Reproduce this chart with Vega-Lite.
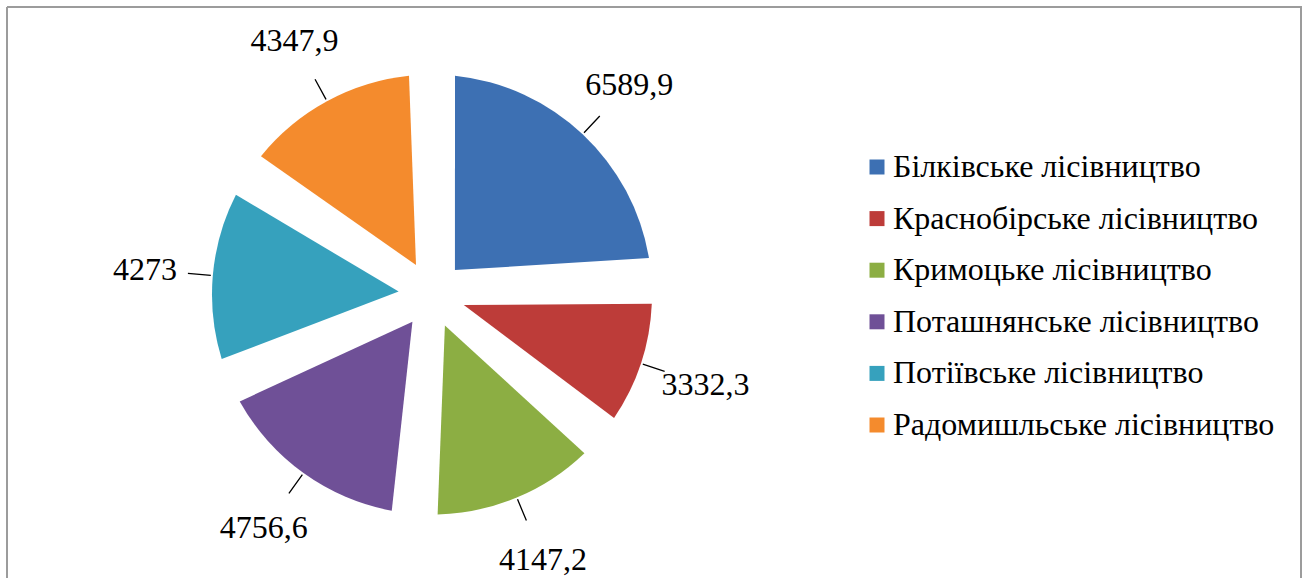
{
  "$schema": "https://vega.github.io/schema/vega-lite/v6.json",
  "width": 1294,
  "height": 571,
  "autosize": {"type": "none"},
  "padding": {"left": 7, "top": 7, "right": 5, "bottom": 0},
  "background": "white",
  "config": {
    "view": {"stroke": null},
    "font": "Liberation Serif",
    "locale": {"number": {"decimal": ",", "thousands": " ", "grouping": [3], "currency": ["", ""]}}
  },
  "data": {
    "values": [
      {"name": "Білківське лісівництво", "value": 6589.9},
      {"name": "Краснобірське лісівництво", "value": 3332.3},
      {"name": "Кримоцьке лісівництво", "value": 4147.2},
      {"name": "Поташнянське лісівництво", "value": 4756.6},
      {"name": "Потіївське лісівництво", "value": 4273},
      {"name": "Радомишльське лісівництво", "value": 4347.9}
    ]
  },
  "layer": [
    {
      "data": {"values": [{"frame": "border"}]},
      "mark": {"type": "rect", "filled": false, "stroke": "#9c9c9c", "strokeWidth": 2, "strokeDash": [1865, 1294, 571, 0]},
      "encoding": {}
    },
    {
      "mark": {"type": "arc", "x": 425, "y": 287.5, "radius": 220, "radius2": 33.5, "padAngle": 0.2071},
      "encoding": {
        "theta": {"field": "value", "type": "quantitative", "stack": true},
        "order": {"field": "name", "type": "ordinal", "sort": "ascending"},
        "color": {
          "field": "name",
          "type": "nominal",
          "scale": {
            "domain": ["Білківське лісівництво", "Краснобірське лісівництво", "Кримоцьке лісівництво", "Поташнянське лісівництво", "Потіївське лісівництво", "Радомишльське лісівництво"],
            "range": ["#3d70b3", "#bd3c39", "#8cae43", "#6f5097", "#36a1bd", "#f48b2d"]
          },
          "legend": {
            "title": null,
            "orient": "none",
            "legendX": 854,
            "legendY": 144,
            "padding": 0,
            "symbolType": "square",
            "symbolSize": 225,
            "symbolStrokeWidth": 0,
            "labelFont": "Liberation Serif",
            "labelFontSize": 32,
            "labelColor": "#000",
            "labelOffset": 0,
            "rowPadding": 19.6,
            "labelLimit": 600
          }
        }
      }
    },
    {
      "mark": {"type": "arc", "x": 425, "y": 287.5, "radius": 245, "radius2": 222, "padAngle": 3.1416, "filled": false, "stroke": "#000", "strokeWidth": 1.3},
      "encoding": {
        "theta": {"field": "value", "type": "quantitative", "stack": true},
        "order": {"field": "name", "type": "ordinal", "sort": "ascending"}
      }
    },
    {
      "mark": {"type": "text", "x": 425, "y": 287.5, "radius": 288, "fontSize": 32, "font": "Liberation Serif", "fill": "#000"},
      "encoding": {
        "theta": {"field": "value", "type": "quantitative", "stack": true},
        "order": {"field": "name", "type": "ordinal", "sort": "ascending"},
        "text": {"field": "value", "type": "quantitative", "format": "~g"}
      }
    }
  ]
}
